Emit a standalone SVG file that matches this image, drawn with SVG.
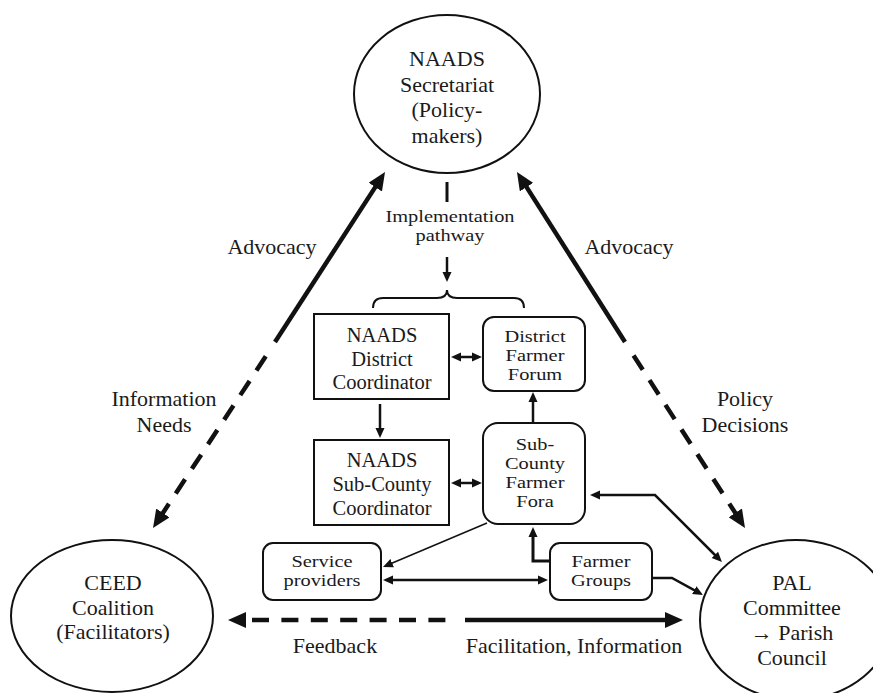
<svg xmlns="http://www.w3.org/2000/svg" width="873" height="693" viewBox="0 0 873 693">
<style>
text{font-family:"Liberation Serif","Times New Roman",serif;fill:#1a1a1a;text-anchor:middle}
.lbl{font-size:22px}
.box{font-size:20.5px}
.sm{font-size:17px}
.ell{fill:#fff;stroke:#111;stroke-width:2}
.rc{fill:#fff;stroke:#111;stroke-width:2}
.thick{fill:none;stroke:#111;stroke-width:4.5}
.dash{stroke-dasharray:17 12.4}
.thin{fill:none;stroke:#111;stroke-width:2.5}
</style>
<defs>
<marker id="A" markerUnits="userSpaceOnUse" markerWidth="18" markerHeight="16" refX="6" refY="8" orient="auto-start-reverse"><path d="M0,0 L18,8 L0,16 z" fill="#111"/></marker>
<marker id="a" markerUnits="userSpaceOnUse" markerWidth="10" markerHeight="10" refX="3" refY="5" orient="auto-start-reverse"><path d="M0,0.5 L10,5 L0,9.5 z" fill="#111"/></marker>
</defs>

<g id="connectors">
<!-- Advocacy left / Information Needs -->
<path class="thick" d="M275,342 L378.5,182.1" marker-end="url(#A)"/>
<path class="thick dash" d="M159.6,518 L265.8,356.3" marker-start="url(#A)"/>
<!-- Advocacy right / Policy Decisions -->
<path class="thick" d="M625,342 L523.4,182.1" marker-end="url(#A)"/>
<path class="thick dash" d="M738.5,517.9 L633.5,355.4" marker-start="url(#A)"/>
<!-- Feedback / Facilitation -->
<path class="thick dash" d="M240,620 L447,620" stroke-dashoffset="17.4" marker-start="url(#A)"/>
<path class="thick" d="M465,620 L671,620" marker-end="url(#A)"/>
<!-- Implementation pathway -->
<path d="M447,182 L447,202" fill="none" stroke="#111" stroke-width="3"/>
<path class="thin" d="M447,257 L447,275" marker-end="url(#a)"/>
<path d="M373,308 Q373,298 383,298 L437,298 Q447,298 447,290 Q447,298 457,298 L514,298 Q524,298 524,308" fill="none" stroke="#111" stroke-width="2"/>
<!-- box links -->
<path class="thin" d="M458,357 L475,357" marker-start="url(#a)" marker-end="url(#a)"/>
<path class="thin" d="M380,404 L380,431" marker-end="url(#a)"/>
<path class="thin" d="M533,423 L533,399" marker-end="url(#a)"/>
<path class="thin" d="M458,483 L475,483" marker-start="url(#a)" marker-end="url(#a)"/>
<path d="M487,523 L389.4,564.3" fill="none" stroke="#111" stroke-width="1.5" marker-end="url(#a)"/>
<path class="thin" d="M390,580 L541,580" marker-start="url(#a)" marker-end="url(#a)"/>
<path d="M550,561 L533,561 L533,534" fill="none" stroke="#111" stroke-width="3" marker-end="url(#a)"/>
<path class="thin" d="M652,578 L672,578 L696.9,591.6" marker-end="url(#a)"/>
<path class="thin" d="M717,557 L655,495 L597,495" marker-start="url(#a)" marker-end="url(#a)"/>
</g>

<g id="labels">
<text class="lbl" x="272" y="254">Advocacy</text>
<text class="lbl" x="629" y="254">Advocacy</text>
<text class="lbl" x="164" y="406">Information</text>
<text class="lbl" x="164" y="432">Needs</text>
<text class="lbl" x="745" y="406">Policy</text>
<text class="lbl" x="745" y="432">Decisions</text>
<text class="lbl" x="335" y="653">Feedback</text>
<text class="lbl" x="574" y="653">Facilitation, Information</text>
<g transform="matrix(1.2,0,0,1,450,0)">
<text class="sm" x="0" y="222">Implementation</text>
<text class="sm" x="0" y="241">pathway</text>
</g>
</g>

<g id="naads-secretariat">
<ellipse class="ell" cx="447" cy="94" rx="93" ry="79"/>
<text class="lbl" x="447" y="66">NAADS</text>
<text class="lbl" x="447" y="92">Secretariat</text>
<text class="lbl" x="447" y="117">(Policy-</text>
<text class="lbl" x="447" y="143">makers)</text>
</g>

<g id="ceed-coalition">
<ellipse class="ell" cx="112" cy="616" rx="101" ry="76"/>
<text class="lbl" x="113" y="590">CEED</text>
<text class="lbl" x="113" y="615">Coalition</text>
<text class="lbl" x="113" y="639">(Facilitators)</text>
</g>

<g id="pal-committee">
<ellipse class="ell" cx="796" cy="620" rx="96" ry="80"/>
<text class="lbl" x="792" y="590">PAL</text>
<text class="lbl" x="792" y="615">Committee</text>
<text class="lbl" x="792" y="640">→ Parish</text>
<text class="lbl" x="792" y="665">Council</text>
</g>

<g id="district-coordinator">
<rect class="rc" x="314" y="314" width="135" height="85"/>
<text class="box" x="382" y="342">NAADS</text>
<text class="box" x="382" y="366">District</text>
<text class="box" x="382" y="389">Coordinator</text>
</g>

<g id="district-farmer-forum">
<rect class="rc" x="483" y="317" width="102" height="74" rx="11"/>
<g transform="matrix(1.2,0,0,1,535,0)">
<text class="sm" x="0" y="342">District</text>
<text class="sm" x="0" y="361">Farmer</text>
<text class="sm" x="0" y="380">Forum</text>
</g>
</g>

<g id="subcounty-coordinator">
<rect class="rc" x="314" y="440" width="135" height="85"/>
<text class="box" x="382" y="467">NAADS</text>
<text class="box" x="382" y="491">Sub-County</text>
<text class="box" x="382" y="515">Coordinator</text>
</g>

<g id="subcounty-farmer-fora">
<rect class="rc" x="483" y="423" width="102" height="101" rx="15"/>
<g transform="matrix(1.2,0,0,1,535,0)">
<text class="sm" x="0" y="450">Sub-</text>
<text class="sm" x="0" y="469">County</text>
<text class="sm" x="0" y="488">Farmer</text>
<text class="sm" x="0" y="507">Fora</text>
</g>
</g>

<g id="service-providers">
<rect class="rc" x="263" y="543" width="118" height="57" rx="10"/>
<g transform="matrix(1.2,0,0,1,322,0)">
<text class="sm" x="0" y="567">Service</text>
<text class="sm" x="0" y="586">providers</text>
</g>
</g>

<g id="farmer-groups">
<rect class="rc" x="550" y="543" width="102" height="57" rx="10"/>
<g transform="matrix(1.2,0,0,1,601,0)">
<text class="sm" x="0" y="567">Farmer</text>
<text class="sm" x="0" y="586">Groups</text>
</g>
</g>
</svg>
